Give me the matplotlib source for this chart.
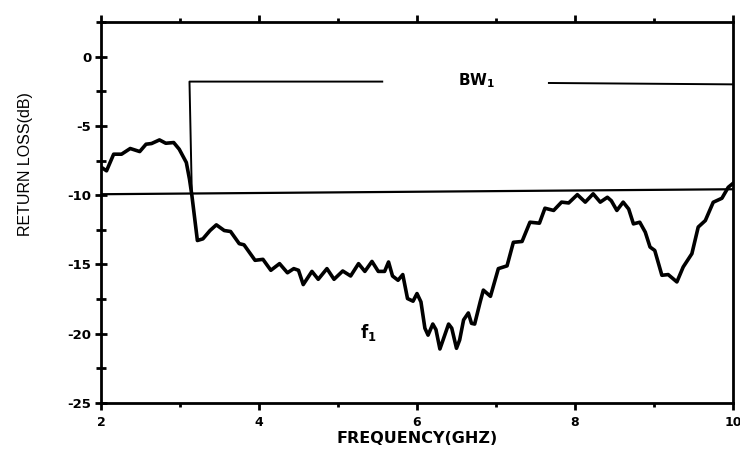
import numpy as np
import matplotlib.pyplot as plt

# return loss curve
freq = [2.0, 2.07, 2.16, 2.26, 2.37, 2.49, 2.57, 2.64, 2.74, 2.82, 2.92, 2.99,
        3.08, 3.12, 3.15, 3.22, 3.29, 3.38, 3.46, 3.56, 3.64, 3.75, 3.81, 3.86,
        3.95, 4.05, 4.15, 4.26, 4.36, 4.44, 4.5, 4.56, 4.67, 4.75, 4.86, 4.95,
        5.06, 5.16, 5.26, 5.34, 5.43, 5.51, 5.59, 5.64, 5.69, 5.76, 5.82, 5.88,
        5.95, 6.0, 6.05, 6.1, 6.14, 6.2, 6.24, 6.29, 6.33, 6.4, 6.44, 6.5,
        6.54, 6.59, 6.65, 6.69, 6.73, 6.8, 6.84, 6.93, 7.03, 7.14, 7.22, 7.33,
        7.43, 7.55, 7.62, 7.73, 7.83, 7.92, 8.03, 8.13, 8.23, 8.32, 8.41, 8.46,
        8.53, 8.61, 8.68, 8.74, 8.82, 8.89, 8.95, 9.01, 9.1, 9.18, 9.29, 9.37,
        9.48, 9.56, 9.65, 9.75, 9.86, 9.94, 10.0]
rl = [-7.97, -8.24, -7.04, -7.04, -6.63, -6.85, -6.32, -6.27, -6.01, -6.25, -6.2, -6.68,
      -7.64, -8.84, -10.0, -13.27, -13.15, -12.55, -12.14, -12.55, -12.62, -13.5, -13.58, -13.98,
      -14.7, -14.63, -15.42, -14.94, -15.6, -15.3, -15.42, -16.45, -15.5, -16.07, -15.3, -16.07,
      -15.47, -15.83, -14.94, -15.5, -14.78, -15.5, -15.5, -14.82, -15.83, -16.14, -15.73, -17.46,
      -17.65, -17.1, -17.7, -19.6, -20.1, -19.3, -19.7, -21.1, -20.45, -19.3, -19.6, -21.05,
      -20.45, -19.0, -18.5, -19.25, -19.3, -17.7, -16.85, -17.3, -15.3, -15.1, -13.4, -13.34,
      -11.95, -12.02, -10.94, -11.1, -10.5, -10.56, -9.96, -10.5, -9.9, -10.5, -10.15, -10.4,
      -11.1, -10.5, -11.0, -12.07, -11.95, -12.67, -13.74, -13.99, -15.78, -15.73, -16.26, -15.18,
      -14.22, -12.3, -11.83, -10.51, -10.22, -9.43, -9.15]

# -10 dB reference line
ref_x = [2.0, 10.0]
ref_y = [-9.93, -9.57]

# bandwidth marker
bw_left_x = [3.15, 3.12, 5.56]
bw_left_y = [-10.0, -1.8, -1.8]
bw_right_x = [7.67, 10.0]
bw_right_y = [-1.9, -2.0]

plt.rcParams['font.family'] = ['DejaVu Sans']
plt.rcParams['axes.unicode_minus'] = False

fig = plt.figure(figsize=(7.4, 4.54), dpi=100)
ax = fig.add_axes([0.1365, 0.1123, 0.854, 0.8392])

ax.plot(ref_x, ref_y, color="black", lw=1.6)
ax.plot(bw_left_x, bw_left_y, color="black", lw=1.4)
ax.plot(bw_right_x, bw_right_y, color="black", lw=1.4)
ax.plot(freq, rl, color="black", lw=2.6, solid_joinstyle="round")

ax.text(6.52, -1.7, r"$\mathbf{BW_{1}}$", fontsize=11, va="center", ha="left")
ax.text(5.28, -19.9, r"$\mathbf{f_{1}}$", fontsize=12, va="center", ha="left")

ax.set_xlim(2, 10)
ax.set_ylim(-25, 2.5)
ax.set_xticks([2, 4, 6, 8, 10])
ax.set_xticks([3, 5, 7, 9], minor=True)
ax.set_yticks([-25, -20, -15, -10, -5, 0])
ax.set_yticks([-22.5, -17.5, -12.5, -7.5, -2.5, 2.5], minor=True)

for s in ax.spines.values():
    s.set_linewidth(2)

ax.tick_params(axis="x", which="major", direction="out", length=5, width=2,
               top=True, labelsize=9, pad=4)
ax.tick_params(axis="x", which="minor", direction="out", length=3, width=2, top=True)
ax.tick_params(axis="y", which="major", direction="inout", length=8, width=2,
               labelsize=9.5, pad=3)
ax.tick_params(axis="y", which="minor", direction="inout", length=7, width=2)
for lab in ax.get_xticklabels() + ax.get_yticklabels():
    lab.set_fontweight("bold")

fig.text(0.564, 0.035, "FREQUENCY(GHZ)", fontsize=11.5, fontweight="bold",
         ha="center", va="center")
fig.text(0.035, 0.639, "RETURN LOSS(dB)", fontsize=11.5, family="Liberation Sans",
         rotation=90, ha="center", va="center")

fig.savefig("out.png", dpi=100)
